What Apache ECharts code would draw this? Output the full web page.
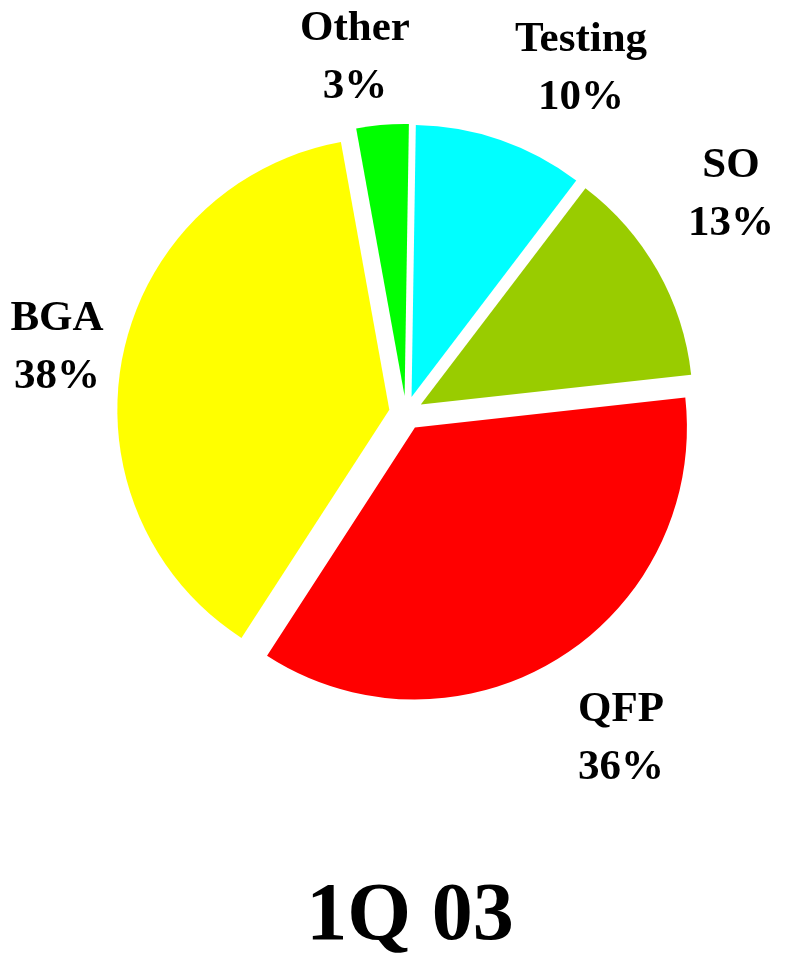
<!DOCTYPE html>
<html>
<head>
<meta charset="utf-8">
<script src="https://cdn.jsdelivr.net/npm/echarts@6/dist/echarts.min.js"></script>
<style>
html,body{margin:0;padding:0;background:#fff;}
#chart{width:787px;height:961px;}
</style>
</head>
<body>
<div id="chart"></div>
<script>
// Data (clockwise from 12 o'clock)
const categories = ['Testing', 'SO', 'QFP', 'BGA', 'Other'];
const shares = [10.1, 12.9, 35.9, 38.0, 3.1];
const titleText = '1Q 03';

// Styling / layout (kept apart from the data)
const sliceColors = ['#00FFFF', '#99CC00', '#FF0000', '#FFFF00', '#00FF00'];
const labelCenters = [[581, 69], [731, 195], [621, 739], [57, 348], [355, 58]];
const serif = '"Liberation Serif", "Times New Roman", serif';

const chart = echarts.init(document.getElementById('chart'), null, {renderer: 'canvas'});

const total = shares.reduce((a, b) => a + b, 0);

const data = categories.map((c, i) => ({
  name: c,
  value: shares[i],
  selected: true,
  itemStyle: {color: sliceColors[i]},
  select: {itemStyle: {color: sliceColors[i]}}
}));

const labelGraphics = categories.map((c, i) => ({
  type: 'text',
  x: labelCenters[i][0],
  y: labelCenters[i][1],
  silent: true,
  style: {
    text: c + '\n' + Math.round(shares[i] / total * 100) + '%',
    font: 'bold 43px ' + serif,
    lineHeight: 58,
    fill: '#000',
    align: 'center',
    verticalAlign: 'middle'
  }
}));

chart.setOption({
  animation: false,
  backgroundColor: '#ffffff',
  graphic: labelGraphics.concat([{
    type: 'text',
    x: 410,
    y: 918,
    silent: true,
    style: {
      text: titleText,
      font: 'bold 82px ' + serif,
      fill: '#000',
      align: 'center',
      verticalAlign: 'middle'
    }
  }]),
  series: [{
    type: 'pie',
    center: [406, 413],
    radius: 272,
    startAngle: 89.1,
    clockwise: true,
    selectedMode: 'multiple',
    selectedOffset: 17,
    avoidLabelOverlap: false,
    emphasis: {disabled: true, scale: false},
    select: {itemStyle: {opacity: 1}},
    itemStyle: {borderWidth: 0},
    labelLine: {show: false},
    label: {show: false},
    data: data
  }]
});
</script>
</body>
</html>
